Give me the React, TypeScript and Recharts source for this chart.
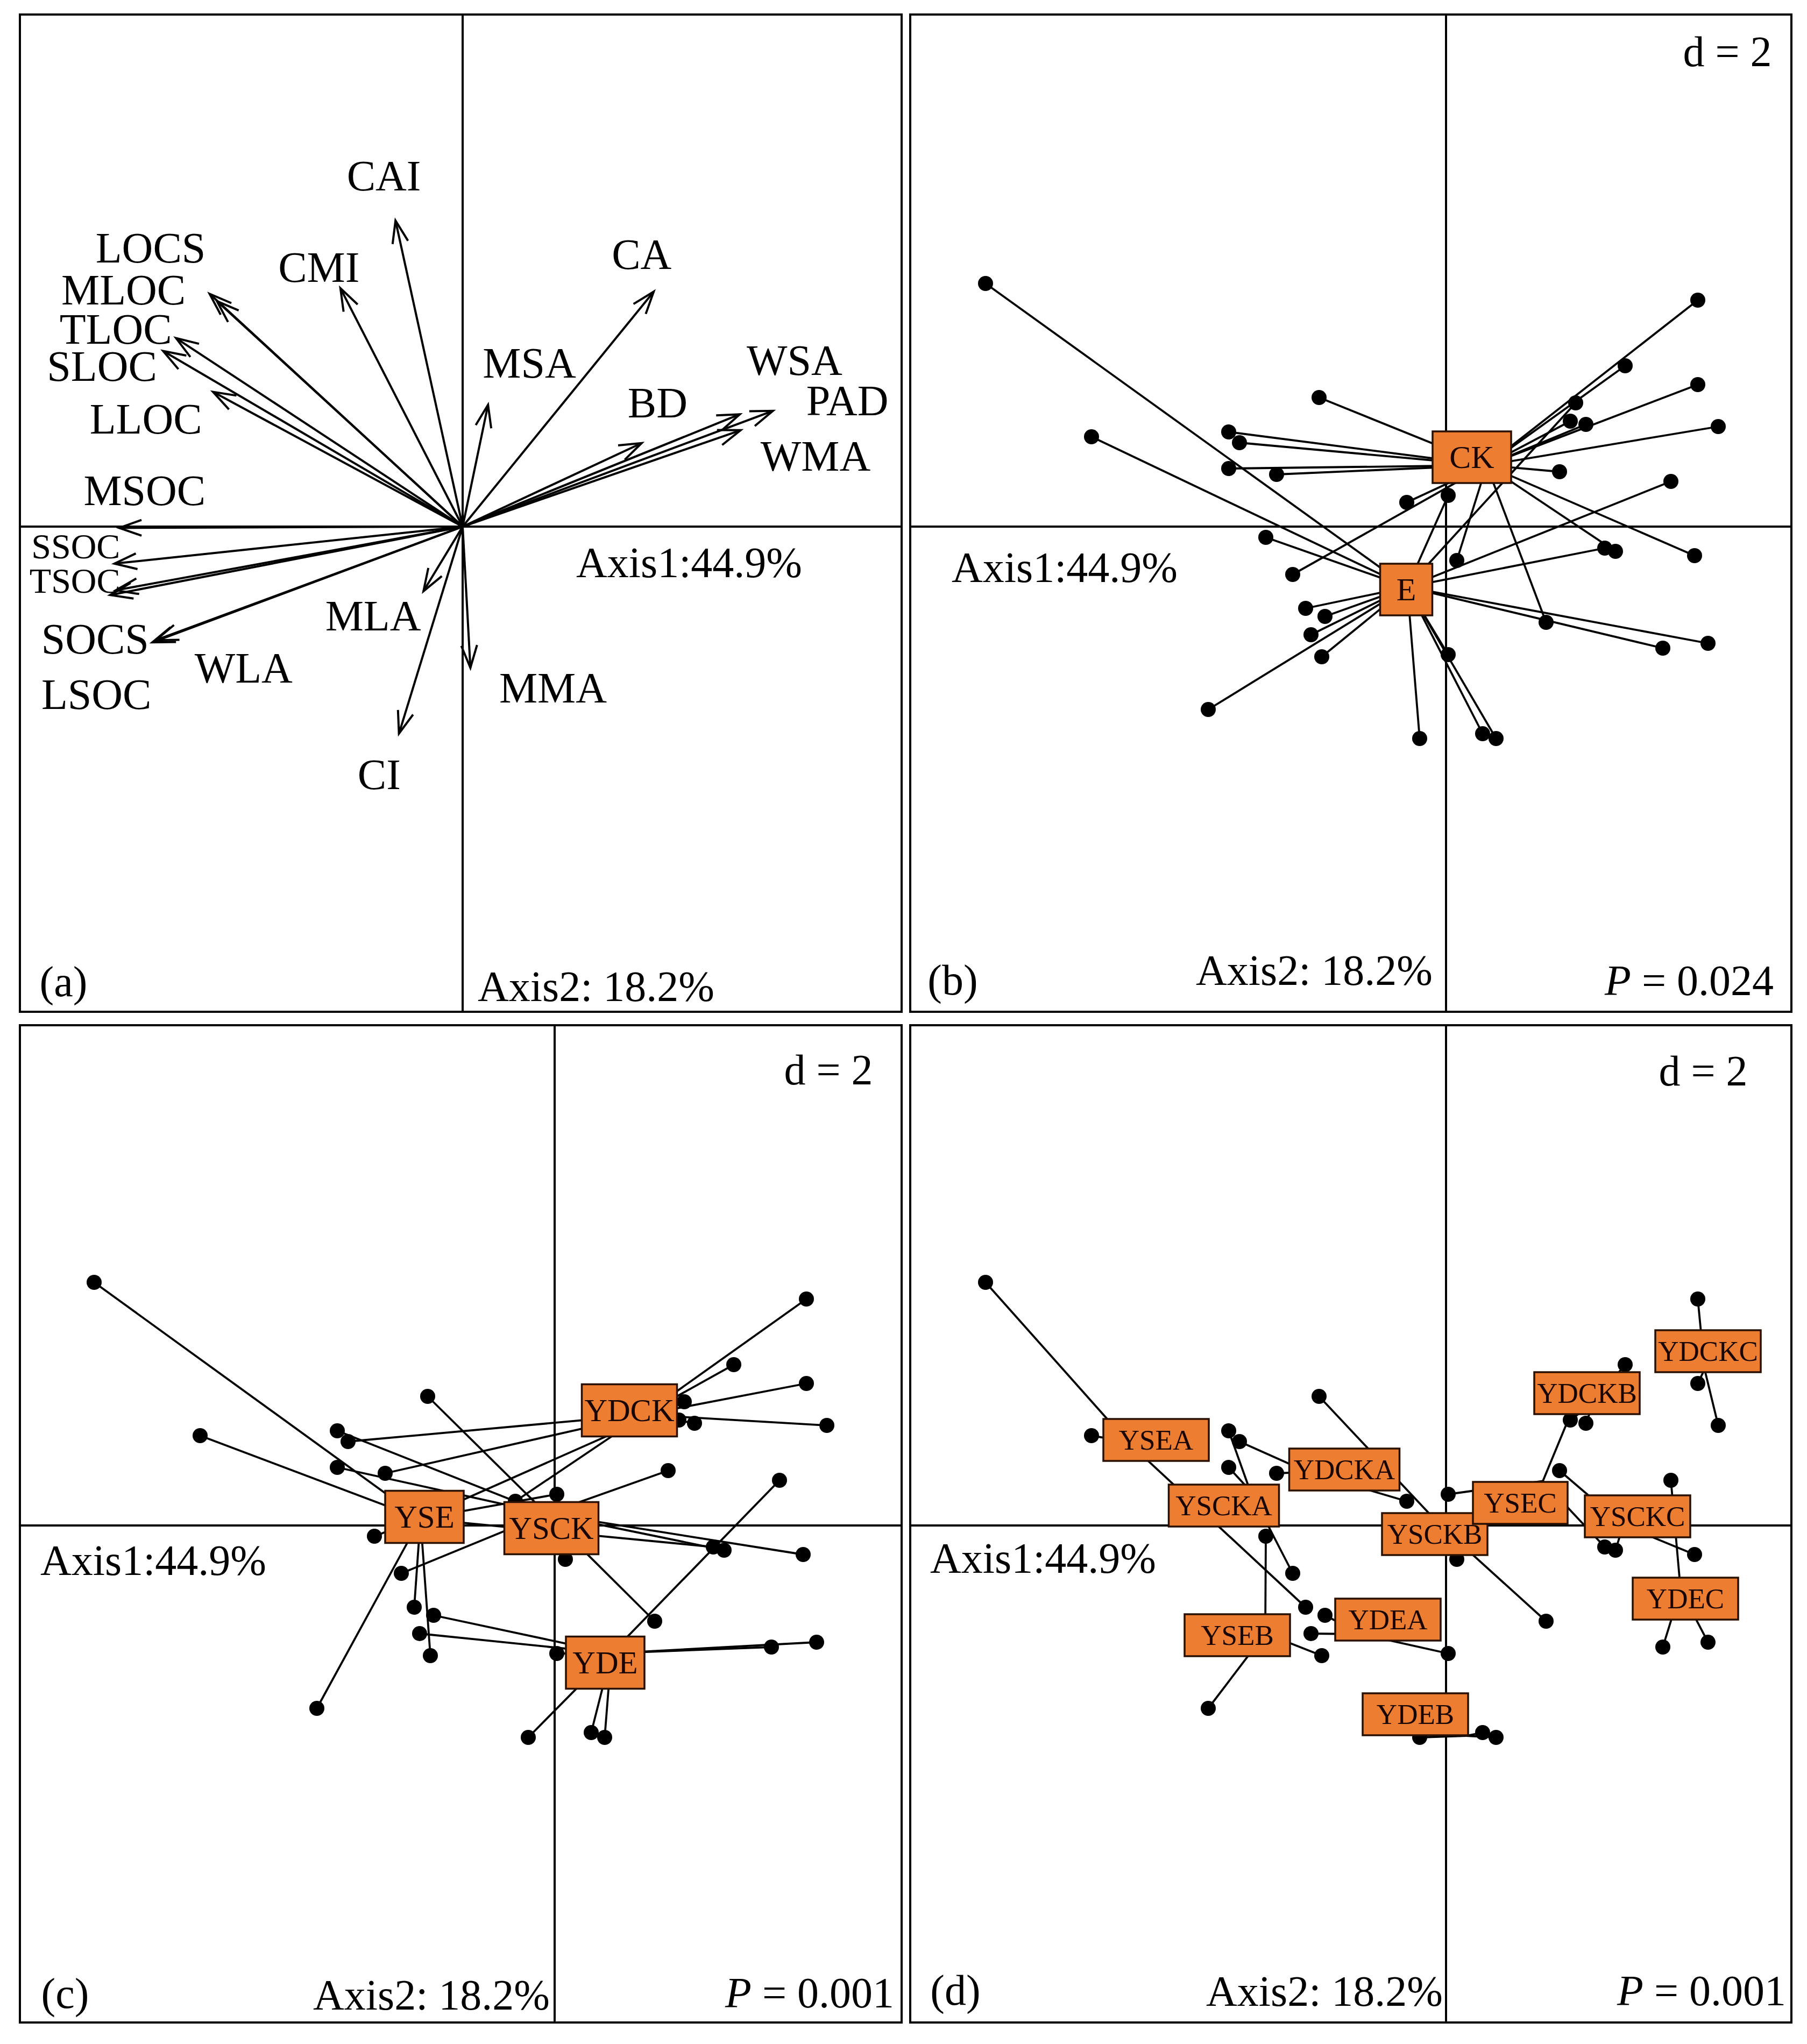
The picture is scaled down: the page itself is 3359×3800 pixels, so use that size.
import React from 'react';
import { ScatterChart, Scatter, XAxis, YAxis, ReferenceLine } from 'recharts';

const FONT = '"Liberation Serif", "Times New Roman", Times, serif';

// ---- panel (a): variable loadings (arrow tips) ----
const VARS = ['CAI', 'CMI', 'LOCS', 'MLOC', 'TLOC', 'SLOC', 'LLOC', 'MSOC', 'SSOC', 'TSOC', 'LSOC', 'SOCS', 'WLA', 'MLA', 'CI', 'MMA', 'MSA', 'CA', 'BD', 'WSA', 'PAD', 'WMA'];
const VAR_X = [-0.156, -0.284, -0.588, -0.571, -0.666, -0.696, -0.58, -0.798, -0.809, -0.819, -0.806, -0.721, -0.713, -0.091, -0.148, 0.018, 0.059, 0.444, 0.416, 0.644, 0.721, 0.646];
const VAR_Y = [0.711, 0.554, 0.541, 0.524, 0.438, 0.408, 0.313, -0.003, -0.086, -0.159, -0.148, -0.269, -0.264, -0.15, -0.481, -0.328, 0.283, 0.546, 0.194, 0.261, 0.269, 0.224];
// where the names are written
const VAR_LABEL_X = [-0.183, -0.334, -0.725, -0.788, -0.806, -0.838, -0.736, -0.739, -0.899, -0.901, -0.851, -0.854, -0.509, -0.208, -0.194, 0.21, 0.155, 0.416, 0.453, 0.771, 0.894, 0.82];
const VAR_LABEL_Y = [0.815, 0.603, 0.648, 0.55, 0.459, 0.373, 0.25, 0.084, -0.046, -0.125, -0.39, -0.261, -0.329, -0.208, -0.576, -0.375, 0.38, 0.633, 0.288, 0.386, 0.293, 0.164];

// ---- sample scores (shared by b, c, d) ----
const SAMPLE_X = [-4.28, -3.295, -1.18, -2.02, -1.92, -2.02, -1.575, -1.675, -1.425, -1.305, -1.125, -1.255, -1.155, -2.21, 2.34, 1.665, 2.34, 1.205, 1.155, 1.3, 2.53, 1.055, 2.09, -0.365, 0.02, 1.475, 1.575, 2.31, 0.1, 0.93, 0.02, 2.015, 2.435, -0.245, 0.34, 0.465];
const SAMPLE_Y = [2.26, 0.835, 1.2, 0.88, 0.78, 0.54, 0.485, -0.1, -0.445, -0.76, -0.835, -1.005, -1.21, -1.7, 2.105, 1.495, 1.32, 1.15, 0.98, 0.95, 0.93, 0.51, 0.42, 0.225, 0.29, -0.2, -0.23, -0.27, -0.315, -0.89, -1.19, -1.13, -1.085, -1.97, -1.925, -1.97];
const SAMPLE_GROUP = ['YSEA', 'YSEA', 'YSCKB', 'YSCKA', 'YDCKA', 'YSCKA', 'YDCKA', 'YSEB', 'YSCKA', 'YSEA', 'YDEA', 'YDEA', 'YSEB', 'YSEB', 'YDCKC', 'YDCKB', 'YDCKC', 'YSEC', 'YDCKB', 'YDCKB', 'YDCKC', 'YSCKC', 'YDEC', 'YDCKA', 'YSEC', 'YSEC', 'YSCKC', 'YSCKC', 'YSCKB', 'YSCKB', 'YDEA', 'YDEC', 'YDEC', 'YDEB', 'YDEB', 'YDEB'];

// ---- class centroids (where the star lines meet) and label box positions ----
const CENT_B = ['CK', 'E'];
const CENT_B_X = [0.378, -0.36];
const CENT_B_Y = [0.57, -0.562];
const LAB_B_X = [0.24, -0.37];
const LAB_B_Y = [0.645, -0.585];

const CENT_C = ['YDCK', 'YSE', 'YSCK', 'YDE'];
const CENT_C_X = [0.83, -1.247, -0.075, 0.527];
const CENT_C_Y = [1.03, 0.063, 0.109, -1.188];
const LAB_C_X = [0.695, -1.21, -0.03, 0.47];
const LAB_C_Y = [1.07, 0.08, -0.025, -1.275];

const CENT_D = ['YSEA', 'YSCKA', 'YDCKA', 'YSCKB', 'YSEC', 'YSCKC', 'YDCKB', 'YDCKC', 'YDEC', 'YDEA', 'YSEB', 'YDEB'];
const CENT_D_X = [-2.96, -1.822, -1.287, -0.05, 0.9, 1.647, 1.373, 2.403, 2.18, -0.787, -1.68, 0.187];
const CENT_D_Y = [0.778, 0.325, 0.497, -0.002, 0.413, 0.003, 1.142, 1.452, -0.598, -1.01, -1.003, -1.955];
const LAB_D_X = [-2.695, -2.065, -0.945, -0.105, 0.69, 1.78, 1.31, 2.435, 2.225, -0.54, -1.94, -0.285];
const LAB_D_Y = [0.795, 0.185, 0.52, -0.08, 0.21, 0.085, 1.23, 1.62, -0.68, -0.875, -1.02, -1.755];

const groupB = (g: string) => (g.includes('CK') ? 'CK' : 'E');
const groupC = (g: string) => g.slice(0, -1);

const LW = 4;

const ArrowShape = (p: any) => {
  const { x1, y1, x2, y2 } = p;
  const ang = Math.atan2(y2 - y1, x2 - x1);
  const L = 44;
  const a = 0.34;
  const ax = x2 - L * Math.cos(ang - a);
  const ay = y2 - L * Math.sin(ang - a);
  const bx = x2 - L * Math.cos(ang + a);
  const by = y2 - L * Math.sin(ang + a);
  return (
    <g>
      <line x1={x1} y1={y1} x2={x2} y2={y2} stroke="#000" strokeWidth={LW} />
      <polyline points={`${ax},${ay} ${x2},${y2} ${bx},${by}`} fill="none" stroke="#000" strokeWidth={LW} />
    </g>
  );
};

const VarLabel = (p: any) => {
  const name = p.payload?.name ?? '';
  const small = name === 'SSOC' || name === 'TSOC';
  return (
    <text x={p.cx} y={p.cy} textAnchor="middle" dominantBaseline="central" fontFamily={FONT} fontSize={small ? 66 : 80} fill="#000">
      {name}
    </text>
  );
};

const DotShape = (p: any) => <circle cx={p.cx} cy={p.cy} r={14} fill="#000" />;

const makeBox = (widths: Record<string, number>, defW: number, h: number, fs: number) => (p: any) => {
  const name = p.payload?.name ?? '';
  const w = widths[name] ?? defW;
  return (
    <g>
      <rect x={p.cx - w / 2} y={p.cy - h / 2} width={w} height={h} fill="#ED7D31" stroke="#2a1000" strokeWidth={3.5} />
      <text x={p.cx} y={p.cy} textAnchor="middle" dominantBaseline="central" fontFamily={FONT} fontSize={fs} fill="#1a0600">
        {name}
      </text>
    </g>
  );
};

const BOX_B = makeBox({ CK: 146, E: 97 }, 146, 96, 60);
const BOX_C = makeBox({ YDCK: 177, YSE: 146, YSCK: 175, YDE: 146 }, 160, 97, 59);
const BOX_D = makeBox({ YSEC: 176, YSCKA: 205, YDCKA: 205 }, 196, 78, 53);

type Cfg = { left: number; top: number; width: number; height: number; xDomain: [number, number]; yDomain: [number, number] };

const PANEL_A: Cfg = { left: 37, top: 27, width: 1639, height: 1854, xDomain: [-1.02875, 1.02], yDomain: [-1.1275, 1.19] };
const PANEL_B: Cfg = { left: 1692, top: 27, width: 1638, height: 1854, xDomain: [-4.98, 3.21], yDomain: [-4.51, 4.76] };
const PANEL_C: Cfg = { left: 37, top: 1906, width: 1639, height: 1854, xDomain: [-4.97, 3.225], yDomain: [-4.62, 4.65] };
const PANEL_D: Cfg = { left: 1692, top: 1906, width: 1638, height: 1854, xDomain: [-4.98, 3.21], yDomain: [-4.62, 4.65] };

const Frame = ({ cfg, children }: { cfg: Cfg; children: React.ReactNode }) => (
  <div style={{ position: 'absolute', left: cfg.left, top: cfg.top, width: cfg.width, height: cfg.height }}>
    {children}
    <div
      style={{
        position: 'absolute',
        left: -2,
        top: -2,
        width: cfg.width + 4,
        height: cfg.height + 4,
        border: '4px solid #000',
        boxSizing: 'border-box',
        pointerEvents: 'none',
      }}
    />
  </div>
);

function VarPanel() {
  const cfg = PANEL_A;
  const labels = VARS.map((name, i) => ({ x: VAR_LABEL_X[i], y: VAR_LABEL_Y[i], name }));
  return (
    <Frame cfg={cfg}>
      <ScatterChart width={cfg.width} height={cfg.height} margin={{ top: 0, right: 0, bottom: 0, left: 0 }}>
        <XAxis type="number" dataKey="x" domain={cfg.xDomain} hide allowDataOverflow />
        <YAxis type="number" dataKey="y" domain={cfg.yDomain} hide allowDataOverflow />
        <ReferenceLine x={0} stroke="#000" strokeWidth={LW} />
        <ReferenceLine y={0} stroke="#000" strokeWidth={LW} />
        {VARS.map((v, i) => (
          <ReferenceLine
            key={v}
            segment={[{ x: 0, y: 0 }, { x: VAR_X[i], y: VAR_Y[i] }]}
            shape={ArrowShape}
            stroke="#000"
            strokeWidth={LW}
          />
        ))}
        <Scatter data={labels} isAnimationActive={false} shape={VarLabel} />
      </ScatterChart>
    </Frame>
  );
}

function ClassPanel({
  cfg,
  names,
  cx,
  cy,
  lx,
  ly,
  groupOf,
  box,
}: {
  cfg: Cfg;
  names: string[];
  cx: number[];
  cy: number[];
  lx: number[];
  ly: number[];
  groupOf: (g: string) => string;
  box: (p: any) => React.ReactElement;
}) {
  const dots = SAMPLE_X.map((x, i) => ({ x, y: SAMPLE_Y[i] }));
  const centre: Record<string, { x: number; y: number }> = {};
  names.forEach((n, i) => (centre[n] = { x: cx[i], y: cy[i] }));
  const labels = names.map((name, i) => ({ x: lx[i], y: ly[i], name }));
  return (
    <Frame cfg={cfg}>
      <ScatterChart width={cfg.width} height={cfg.height} margin={{ top: 0, right: 0, bottom: 0, left: 0 }}>
        <XAxis type="number" dataKey="x" domain={cfg.xDomain} hide allowDataOverflow />
        <YAxis type="number" dataKey="y" domain={cfg.yDomain} hide allowDataOverflow />
        <ReferenceLine x={0} stroke="#000" strokeWidth={LW} />
        <ReferenceLine y={0} stroke="#000" strokeWidth={LW} />
        {dots.map((d, i) => {
          const c = centre[groupOf(SAMPLE_GROUP[i])];
          return <ReferenceLine key={i} segment={[{ x: d.x, y: d.y }, { x: c.x, y: c.y }]} stroke="#000" strokeWidth={3.8} />;
        })}
        <Scatter data={dots} isAnimationActive={false} shape={DotShape} />
        <Scatter data={labels} isAnimationActive={false} shape={box} />
      </ScatterChart>
    </Frame>
  );
}

const Txt = ({ x, y, children, size = 80 }: { x: number; y: number; children: React.ReactNode; size?: number }) => (
  <div
    style={{
      position: 'absolute',
      left: x,
      top: y,
      transform: 'translate(-50%, -50%)',
      fontFamily: FONT,
      fontSize: size,
      lineHeight: 1,
      whiteSpace: 'nowrap',
      color: '#000',
    }}
  >
    {children}
  </div>
);

const P = ({ v }: { v: string }) => (
  <>
    <i>P</i> = {v}
  </>
);

export default function App() {
  return (
    <div style={{ position: 'absolute', left: 0, top: 0, width: 3359, height: 3800, background: '#fff', overflow: 'hidden' }}>
      <VarPanel />
      <ClassPanel cfg={PANEL_B} names={CENT_B} cx={CENT_B_X} cy={CENT_B_Y} lx={LAB_B_X} ly={LAB_B_Y} groupOf={groupB} box={BOX_B} />
      <ClassPanel cfg={PANEL_C} names={CENT_C} cx={CENT_C_X} cy={CENT_C_Y} lx={LAB_C_X} ly={LAB_C_Y} groupOf={groupC} box={BOX_C} />
      <ClassPanel cfg={PANEL_D} names={CENT_D} cx={CENT_D_X} cy={CENT_D_Y} lx={LAB_D_X} ly={LAB_D_Y} groupOf={(g) => g} box={BOX_D} />

      {/* panel (a) */}
      <Txt x={118} y={1825}>(a)</Txt>
      <Txt x={1108} y={1834}>Axis2: 18.2%</Txt>
      <Txt x={1281} y={1046}>Axis1:44.9%</Txt>

      {/* panel (b) */}
      <Txt x={3211} y={96}>d = 2</Txt>
      <Txt x={1979} y={1055}>Axis1:44.9%</Txt>
      <Txt x={2443} y={1804}>Axis2: 18.2%</Txt>
      <Txt x={1771} y={1822}>(b)</Txt>
      <Txt x={3140} y={1823}><P v="0.024" /></Txt>

      {/* panel (c) */}
      <Txt x={1540} y={1989}>d = 2</Txt>
      <Txt x={285} y={2901}>Axis1:44.9%</Txt>
      <Txt x={802} y={3709}>Axis2: 18.2%</Txt>
      <Txt x={121} y={3706}>(c)</Txt>
      <Txt x={1505} y={3705}><P v="0.001" /></Txt>

      {/* panel (d) */}
      <Txt x={3166} y={1991}>d = 2</Txt>
      <Txt x={1939} y={2897}>Axis1:44.9%</Txt>
      <Txt x={2462} y={3702}>Axis2: 18.2%</Txt>
      <Txt x={1776} y={3700}>(d)</Txt>
      <Txt x={3163} y={3701}><P v="0.001" /></Txt>
    </div>
  );
}
